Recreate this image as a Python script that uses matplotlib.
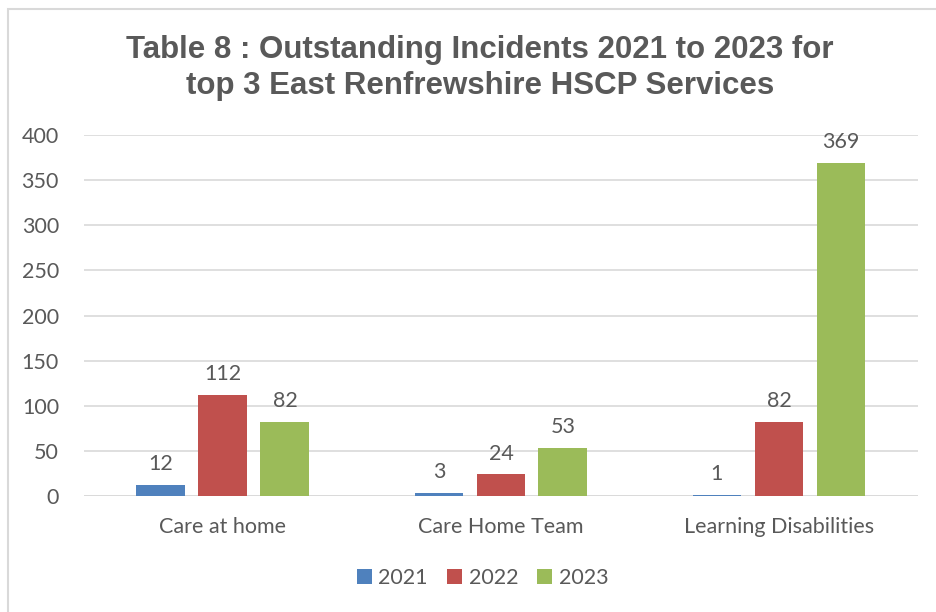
import numpy as np
import matplotlib.pyplot as plt
from matplotlib.patches import Rectangle

categories = ["Care at home", "Care Home Team", "Learning Disabilities"]
years = ["2021", "2022", "2023"]
v2021 = [12, 3, 1]
v2022 = [112, 24, 82]
v2023 = [82, 53, 369]

colors = ["#4F81BD", "#C0504D", "#9BBB59"]
txt = "#595959"
font = ["Lato", "DejaVu Sans"]

fig = plt.figure(figsize=(9.37, 6.12), dpi=100)
fig.patches.append(Rectangle((0.0085, -0.01), 1.0, 0.995, transform=fig.transFigure,
                             fill=False, edgecolor="#D9D9D9", linewidth=1.5))

ax = fig.add_axes([0.0896, 0.1895, 0.8901, 0.5899])
x = np.arange(len(categories))
w = 0.176
step = 0.223
for i, (vals, c, yr) in enumerate(zip([v2021, v2022, v2023], colors, years)):
    bars = ax.bar(x + (i - 1) * step, vals, w, color=c, label=yr, zorder=3)
    for b, v in zip(bars, vals):
        ax.text(b.get_x() + b.get_width() / 2, v + 12, str(v), ha="center", va="bottom",
                fontsize=15.5, color=txt, family=font)

ax.set_xlim(-0.5, 2.5)
ax.set_ylim(0, 400)
ax.set_yticks(range(0, 401, 50))
ax.yaxis.grid(True, color="#D9D9D9", linewidth=1.2, zorder=0)
ax.set_xticks(x)
ax.set_xticklabels(categories)
for s in ax.spines.values():
    s.set_visible(False)
ax.tick_params(length=0, labelsize=15.5, labelcolor=txt)
ax.tick_params(axis="x", pad=15)
ax.tick_params(axis="y", pad=18)
for lab in ax.get_xticklabels() + ax.get_yticklabels():
    lab.set_family(font)
ax.axhline(0, color="#D9D9D9", linewidth=1.2, zorder=2)

fig.text(0.512, 0.889, "Table 8 : Outstanding Incidents 2021 to 2023 for\ntop 3 East Renfrewshire HSCP Services",
         ha="center", va="center", fontsize=22.5, fontweight="bold", color=txt,
         family=["Liberation Sans", "DejaVu Sans"], linespacing=1.28)

leg = fig.legend(loc="center", bbox_to_anchor=(0.515, 0.055), ncol=3, frameon=False,
                 handlelength=0.7, handleheight=0.7, handletextpad=0.3, columnspacing=0.9,
                 prop={"family": font, "size": 15.5})
for t in leg.get_texts():
    t.set_color(txt)

fig.savefig("out.png", dpi=100)
